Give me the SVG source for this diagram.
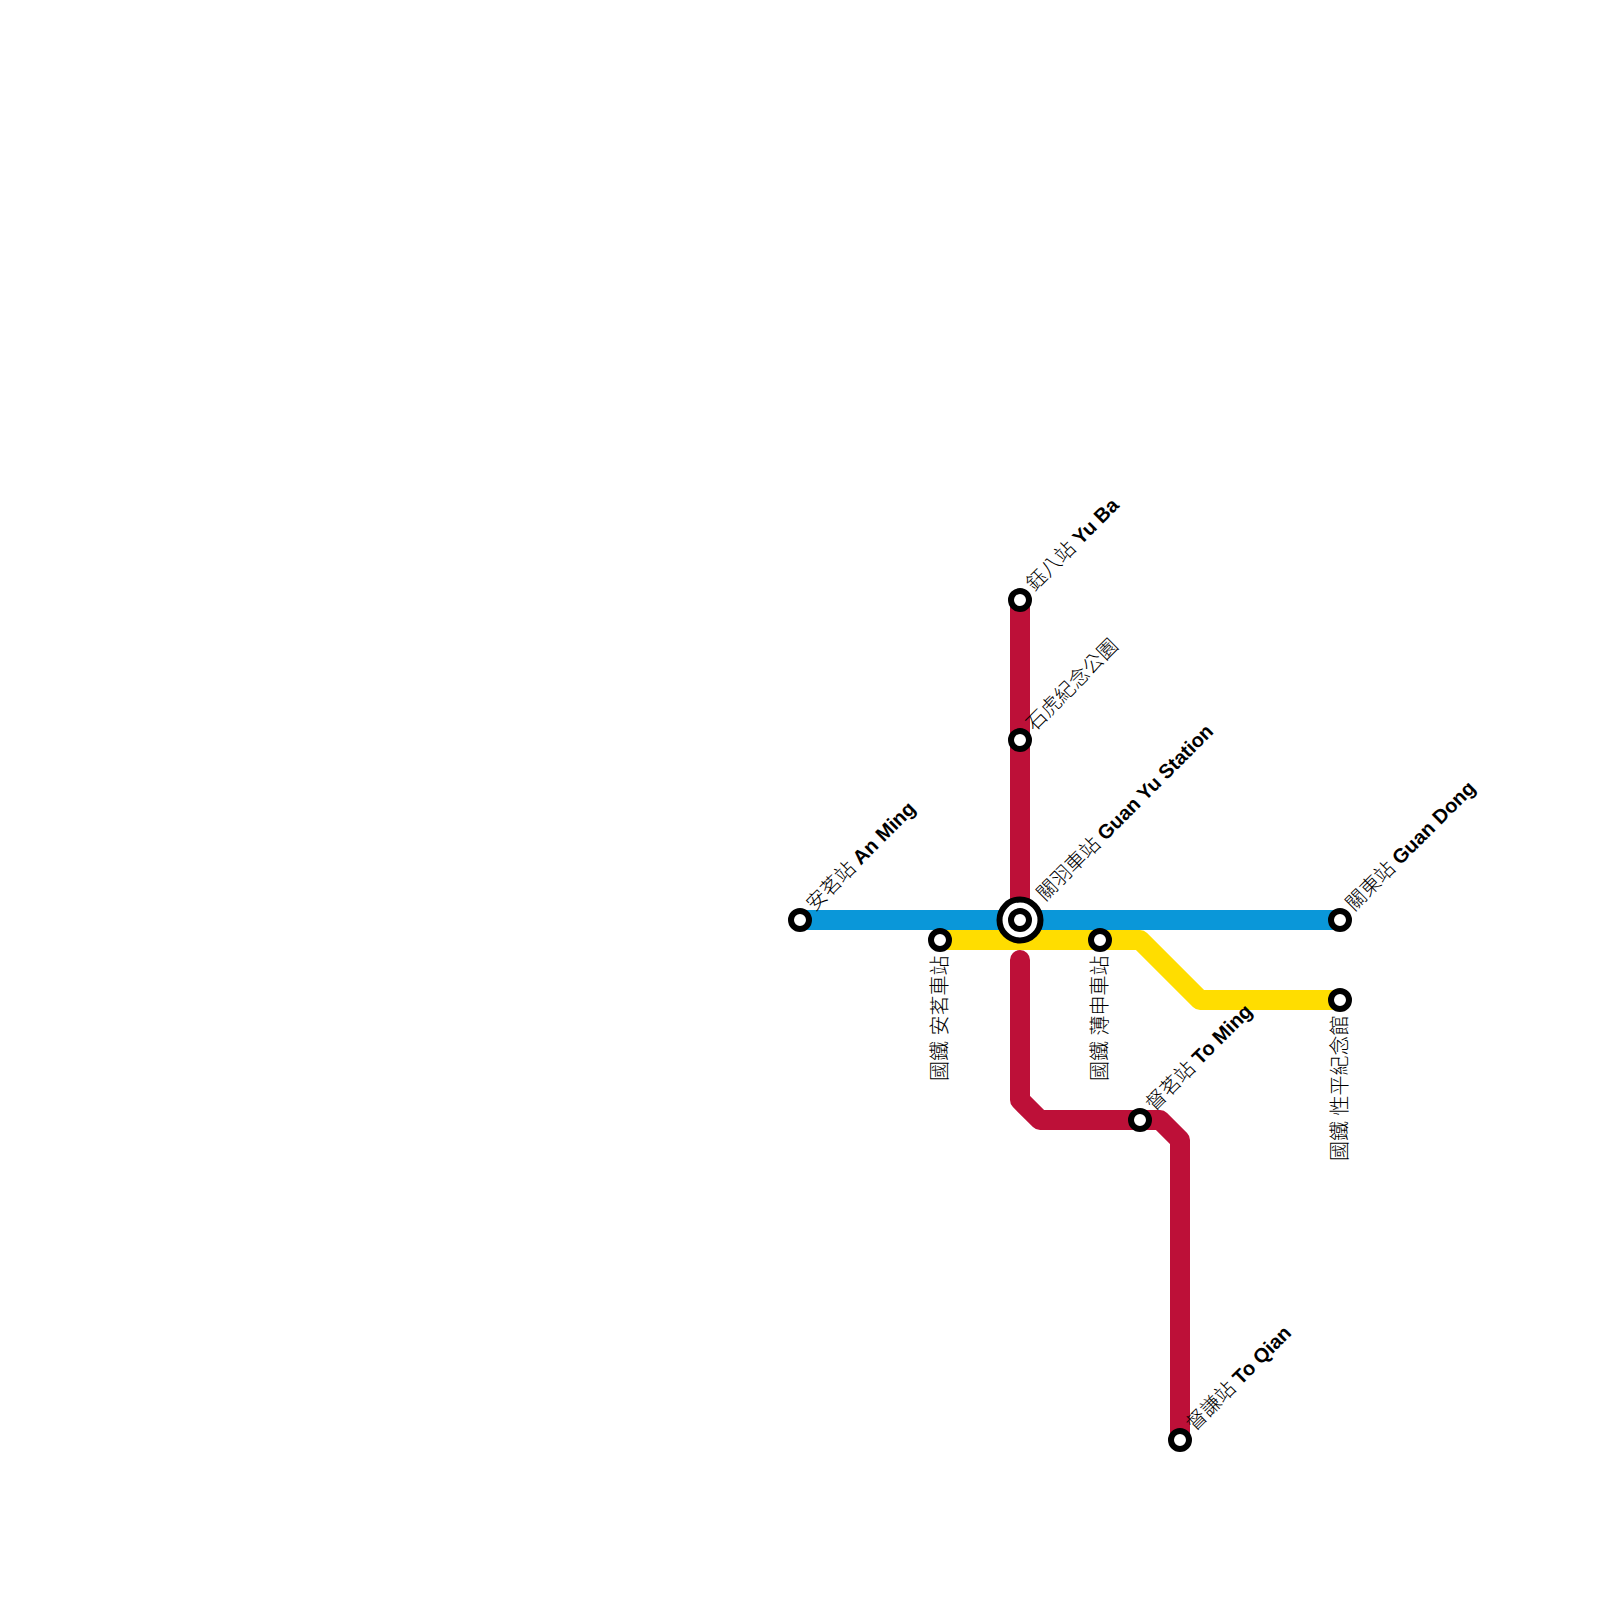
<svg xmlns="http://www.w3.org/2000/svg" width="1600" height="1600" viewBox="0 0 1600 1600">
<style>
.line{fill:none;stroke-width:20;stroke-linecap:round;stroke-linejoin:round}
.st{fill:#fff;stroke:#000;stroke-width:6}
text{font-family:"Liberation Sans","Noto Sans CJK TC",sans-serif;font-size:20px;fill:#000;font-weight:300}
.b{font-weight:bold}
</style>
<rect width="1600" height="1600" fill="#fff"/>
<g id="connectors">
<path class="line" stroke="#bd1038" d="M1020 600V900M1020 960V1100L1040 1120H1160L1180 1140V1440"/>
<path class="line" stroke="#0a97d9" d="M800 920H1340"/>
<path class="line" stroke="#ffdd00" d="M940 940H1140L1200 1000H1340"/>
</g>
<g id="an-ming"><circle class="st" cx="800" cy="920" r="9"/><text transform="translate(814.5 912) rotate(-45)">安茗站 <tspan class="b">An Ming</tspan></text></g>
<g id="guan-yu"><circle cx="1020" cy="920" r="20.5" fill="#fff" stroke="#000" stroke-width="6"/><circle class="st" cx="1020" cy="920" r="9"/><text transform="translate(1045 902) rotate(-45)">關羽車站 <tspan class="b">Guan Yu Station</tspan></text></g>
<g id="guan-dong"><circle class="st" cx="1340" cy="920" r="9"/><text transform="translate(1354 912) rotate(-45)">關東站 <tspan class="b">Guan Dong</tspan></text></g>
<g id="yu-ba"><circle class="st" cx="1020" cy="600" r="9"/><text transform="translate(1034.5 592) rotate(-45)">鈺八站 <tspan class="b">Yu Ba</tspan></text></g>
<g id="shi-hu"><circle class="st" cx="1020" cy="740" r="9"/><text transform="translate(1034.5 732) rotate(-45)">石虎紀念公園</text></g>
<g id="to-ming"><circle class="st" cx="1140" cy="1120" r="9"/><text transform="translate(1154 1112) rotate(-45)">督茗站 <tspan class="b">To Ming</tspan></text></g>
<g id="to-qian"><circle class="st" cx="1180" cy="1440" r="9"/><text transform="translate(1194.5 1432) rotate(-45)">督謙站 <tspan class="b">To Qian</tspan></text></g>
<g id="an-ming-rail"><circle class="st" cx="940" cy="940" r="9"/><text transform="translate(947 955.5) rotate(-90)" text-anchor="end">國鐵 安茗車站</text></g>
<g id="bo-shen-rail"><circle class="st" cx="1100" cy="940" r="9"/><text transform="translate(1107 955.5) rotate(-90)" text-anchor="end">國鐵 薄申車站</text></g>
<g id="xing-ping-rail"><circle class="st" cx="1340" cy="1000" r="9"/><text transform="translate(1347 1015.5) rotate(-90)" text-anchor="end">國鐵 性平紀念館</text></g>
</svg>
